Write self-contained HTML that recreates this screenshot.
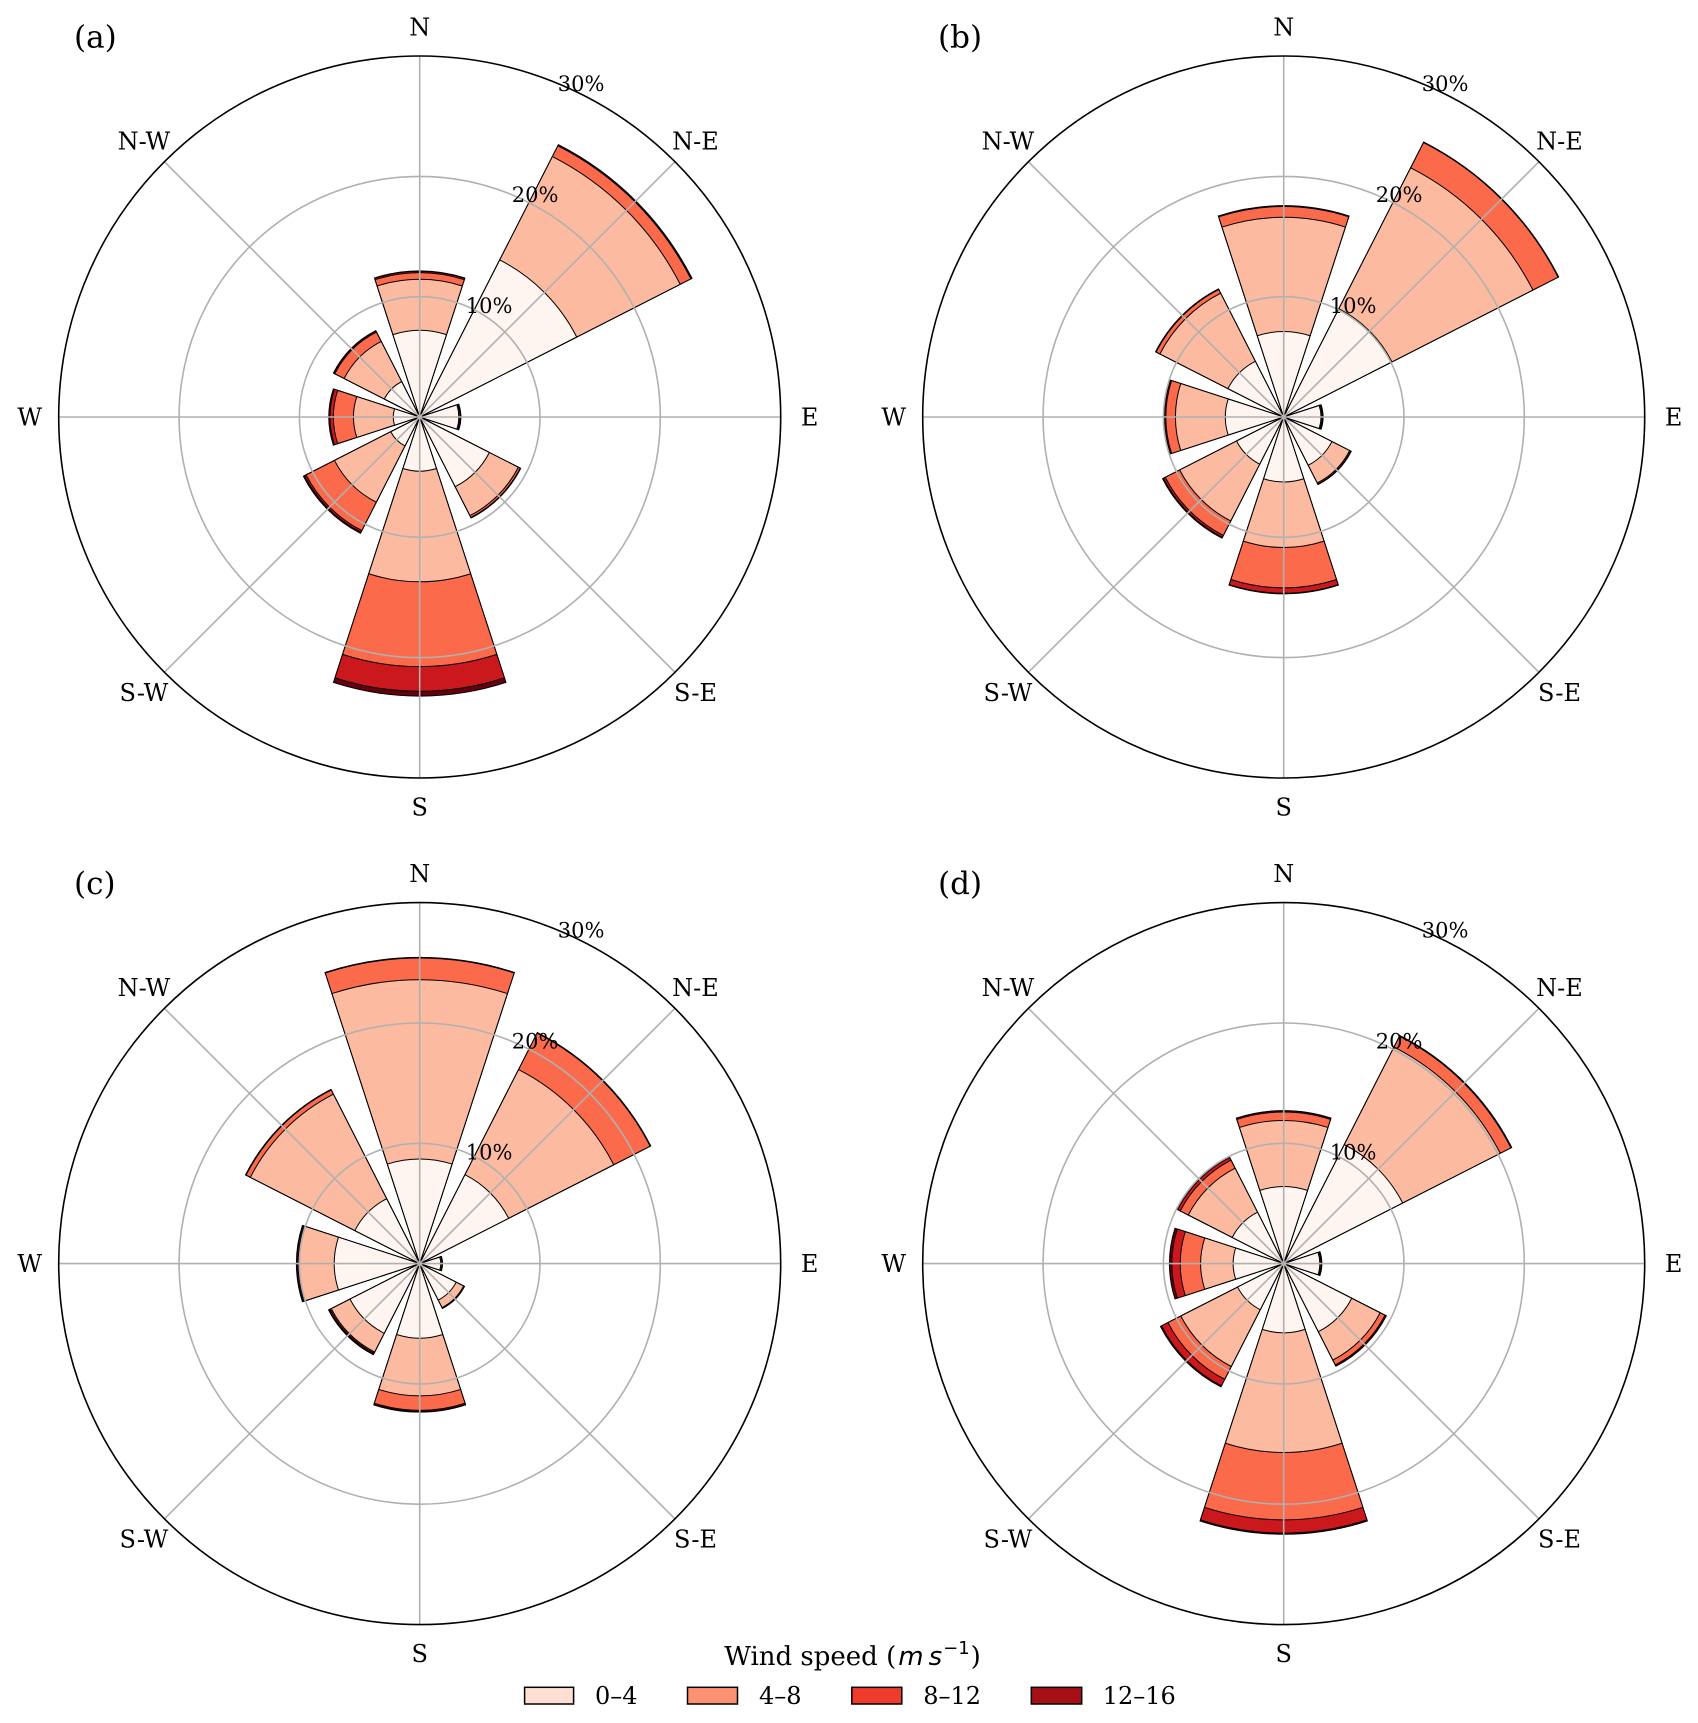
<!DOCTYPE html>
<html><head><meta charset="utf-8"><style>
html,body{margin:0;padding:0;background:#fff;}
svg{display:block;}
.w{stroke:#000;stroke-width:1;vector-effect:non-scaling-stroke;stroke-linejoin:miter;}
.c1{fill:#fff5f0}.c2{fill:#fcbba1}.c3{fill:#fb6a4a}.c4{fill:#cb181d}.c5{fill:#67000d}
.g{stroke:#b0b0b0;stroke-width:1.6;fill:none;}
.sp{stroke:#000;stroke-width:1.6;fill:none;}
text{font-family:"DejaVu Serif","Liberation Serif",serif;fill:#000;}
.t{font-size:24px;text-anchor:middle;}
.r{font-size:21px;}
.p{font-size:31px;}
</style></head><body>
<svg width="1698" height="1723" viewBox="0 0 1698 1723" xmlns="http://www.w3.org/2000/svg">
<rect width="1698" height="1723" fill="#fff"/>

<!-- Panel a -->
<g transform="translate(419.7 417) scale(12.03)">
<g transform="rotate(0)">
<path class="w c5" transform="scale(12.15)" d="M0 0L-.30902-.95106A1 1 0 0 1 .30902-.95106Z"/>
<path class="w c4" transform="scale(12.12)" d="M0 0L-.30902-.95106A1 1 0 0 1 .30902-.95106Z"/>
<path class="w c3" transform="scale(12.0)" d="M0 0L-.30902-.95106A1 1 0 0 1 .30902-.95106Z"/>
<path class="w c2" transform="scale(11.45)" d="M0 0L-.30902-.95106A1 1 0 0 1 .30902-.95106Z"/>
<path class="w c1" transform="scale(7.2)" d="M0 0L-.30902-.95106A1 1 0 0 1 .30902-.95106Z"/>
</g>
<g transform="rotate(45)">
<path class="w c5" transform="scale(25.4)" d="M0 0L-.30902-.95106A1 1 0 0 1 .30902-.95106Z"/>
<path class="w c4" transform="scale(25.38)" d="M0 0L-.30902-.95106A1 1 0 0 1 .30902-.95106Z"/>
<path class="w c3" transform="scale(25.3)" d="M0 0L-.30902-.95106A1 1 0 0 1 .30902-.95106Z"/>
<path class="w c2" transform="scale(24.3)" d="M0 0L-.30902-.95106A1 1 0 0 1 .30902-.95106Z"/>
<path class="w c1" transform="scale(14.65)" d="M0 0L-.30902-.95106A1 1 0 0 1 .30902-.95106Z"/>
</g>
<g transform="rotate(90)">
<path class="w c5" transform="scale(3.42)" d="M0 0L-.30902-.95106A1 1 0 0 1 .30902-.95106Z"/>
<path class="w c4" transform="scale(3.4)" d="M0 0L-.30902-.95106A1 1 0 0 1 .30902-.95106Z"/>
<path class="w c3" transform="scale(3.38)" d="M0 0L-.30902-.95106A1 1 0 0 1 .30902-.95106Z"/>
<path class="w c2" transform="scale(3.33)" d="M0 0L-.30902-.95106A1 1 0 0 1 .30902-.95106Z"/>
<path class="w c1" transform="scale(3.25)" d="M0 0L-.30902-.95106A1 1 0 0 1 .30902-.95106Z"/>
</g>
<g transform="rotate(135)">
<path class="w c5" transform="scale(9.42)" d="M0 0L-.30902-.95106A1 1 0 0 1 .30902-.95106Z"/>
<path class="w c4" transform="scale(9.4)" d="M0 0L-.30902-.95106A1 1 0 0 1 .30902-.95106Z"/>
<path class="w c3" transform="scale(9.37)" d="M0 0L-.30902-.95106A1 1 0 0 1 .30902-.95106Z"/>
<path class="w c2" transform="scale(9.2)" d="M0 0L-.30902-.95106A1 1 0 0 1 .30902-.95106Z"/>
<path class="w c1" transform="scale(6.5)" d="M0 0L-.30902-.95106A1 1 0 0 1 .30902-.95106Z"/>
</g>
<g transform="rotate(180)">
<path class="w c5" transform="scale(23.2)" d="M0 0L-.30902-.95106A1 1 0 0 1 .30902-.95106Z"/>
<path class="w c4" transform="scale(22.8)" d="M0 0L-.30902-.95106A1 1 0 0 1 .30902-.95106Z"/>
<path class="w c3" transform="scale(20.75)" d="M0 0L-.30902-.95106A1 1 0 0 1 .30902-.95106Z"/>
<path class="w c2" transform="scale(13.7)" d="M0 0L-.30902-.95106A1 1 0 0 1 .30902-.95106Z"/>
<path class="w c1" transform="scale(4.5)" d="M0 0L-.30902-.95106A1 1 0 0 1 .30902-.95106Z"/>
</g>
<g transform="rotate(225)">
<path class="w c5" transform="scale(10.85)" d="M0 0L-.30902-.95106A1 1 0 0 1 .30902-.95106Z"/>
<path class="w c4" transform="scale(10.75)" d="M0 0L-.30902-.95106A1 1 0 0 1 .30902-.95106Z"/>
<path class="w c3" transform="scale(10.6)" d="M0 0L-.30902-.95106A1 1 0 0 1 .30902-.95106Z"/>
<path class="w c2" transform="scale(7.95)" d="M0 0L-.30902-.95106A1 1 0 0 1 .30902-.95106Z"/>
<path class="w c1" transform="scale(2.7)" d="M0 0L-.30902-.95106A1 1 0 0 1 .30902-.95106Z"/>
</g>
<g transform="rotate(270)">
<path class="w c5" transform="scale(7.55)" d="M0 0L-.30902-.95106A1 1 0 0 1 .30902-.95106Z"/>
<path class="w c4" transform="scale(7.45)" d="M0 0L-.30902-.95106A1 1 0 0 1 .30902-.95106Z"/>
<path class="w c3" transform="scale(7.17)" d="M0 0L-.30902-.95106A1 1 0 0 1 .30902-.95106Z"/>
<path class="w c2" transform="scale(5.5)" d="M0 0L-.30902-.95106A1 1 0 0 1 .30902-.95106Z"/>
<path class="w c1" transform="scale(2.2)" d="M0 0L-.30902-.95106A1 1 0 0 1 .30902-.95106Z"/>
</g>
<g transform="rotate(315)">
<path class="w c5" transform="scale(8.05)" d="M0 0L-.30902-.95106A1 1 0 0 1 .30902-.95106Z"/>
<path class="w c4" transform="scale(8.02)" d="M0 0L-.30902-.95106A1 1 0 0 1 .30902-.95106Z"/>
<path class="w c3" transform="scale(7.92)" d="M0 0L-.30902-.95106A1 1 0 0 1 .30902-.95106Z"/>
<path class="w c2" transform="scale(7.05)" d="M0 0L-.30902-.95106A1 1 0 0 1 .30902-.95106Z"/>
<path class="w c1" transform="scale(3.3)" d="M0 0L-.30902-.95106A1 1 0 0 1 .30902-.95106Z"/>
</g>
</g>
<g transform="translate(419.7 417)">
<path class="g" d="M0 -361V361M-361 0H361M-255.3 -255.3L255.3 255.3M-255.3 255.3L255.3 -255.3"/>
<circle class="g" r="120.3"/><circle class="g" r="240.6"/>
<circle class="sp" r="361"/>
</g>

<!-- Panel b -->
<g transform="translate(1283.7 417) scale(12.03)">
<g transform="rotate(0)">
<path class="w c5" transform="scale(17.57)" d="M0 0L-.30902-.95106A1 1 0 0 1 .30902-.95106Z"/>
<path class="w c4" transform="scale(17.55)" d="M0 0L-.30902-.95106A1 1 0 0 1 .30902-.95106Z"/>
<path class="w c3" transform="scale(17.5)" d="M0 0L-.30902-.95106A1 1 0 0 1 .30902-.95106Z"/>
<path class="w c2" transform="scale(16.6)" d="M0 0L-.30902-.95106A1 1 0 0 1 .30902-.95106Z"/>
<path class="w c1" transform="scale(7.1)" d="M0 0L-.30902-.95106A1 1 0 0 1 .30902-.95106Z"/>
</g>
<g transform="rotate(45)">
<path class="w c5" transform="scale(25.65)" d="M0 0L-.30902-.95106A1 1 0 0 1 .30902-.95106Z"/>
<path class="w c4" transform="scale(25.63)" d="M0 0L-.30902-.95106A1 1 0 0 1 .30902-.95106Z"/>
<path class="w c3" transform="scale(25.6)" d="M0 0L-.30902-.95106A1 1 0 0 1 .30902-.95106Z"/>
<path class="w c2" transform="scale(23.25)" d="M0 0L-.30902-.95106A1 1 0 0 1 .30902-.95106Z"/>
<path class="w c1" transform="scale(10.1)" d="M0 0L-.30902-.95106A1 1 0 0 1 .30902-.95106Z"/>
</g>
<g transform="rotate(90)">
<path class="w c5" transform="scale(3.27)" d="M0 0L-.30902-.95106A1 1 0 0 1 .30902-.95106Z"/>
<path class="w c4" transform="scale(3.25)" d="M0 0L-.30902-.95106A1 1 0 0 1 .30902-.95106Z"/>
<path class="w c3" transform="scale(3.22)" d="M0 0L-.30902-.95106A1 1 0 0 1 .30902-.95106Z"/>
<path class="w c2" transform="scale(3.18)" d="M0 0L-.30902-.95106A1 1 0 0 1 .30902-.95106Z"/>
<path class="w c1" transform="scale(3.1)" d="M0 0L-.30902-.95106A1 1 0 0 1 .30902-.95106Z"/>
</g>
<g transform="rotate(135)">
<path class="w c5" transform="scale(6.3)" d="M0 0L-.30902-.95106A1 1 0 0 1 .30902-.95106Z"/>
<path class="w c4" transform="scale(6.28)" d="M0 0L-.30902-.95106A1 1 0 0 1 .30902-.95106Z"/>
<path class="w c3" transform="scale(6.25)" d="M0 0L-.30902-.95106A1 1 0 0 1 .30902-.95106Z"/>
<path class="w c2" transform="scale(6.15)" d="M0 0L-.30902-.95106A1 1 0 0 1 .30902-.95106Z"/>
<path class="w c1" transform="scale(4.5)" d="M0 0L-.30902-.95106A1 1 0 0 1 .30902-.95106Z"/>
</g>
<g transform="rotate(180)">
<path class="w c5" transform="scale(14.7)" d="M0 0L-.30902-.95106A1 1 0 0 1 .30902-.95106Z"/>
<path class="w c4" transform="scale(14.65)" d="M0 0L-.30902-.95106A1 1 0 0 1 .30902-.95106Z"/>
<path class="w c3" transform="scale(14.2)" d="M0 0L-.30902-.95106A1 1 0 0 1 .30902-.95106Z"/>
<path class="w c2" transform="scale(10.85)" d="M0 0L-.30902-.95106A1 1 0 0 1 .30902-.95106Z"/>
<path class="w c1" transform="scale(5.4)" d="M0 0L-.30902-.95106A1 1 0 0 1 .30902-.95106Z"/>
</g>
<g transform="rotate(225)">
<path class="w c5" transform="scale(11.3)" d="M0 0L-.30902-.95106A1 1 0 0 1 .30902-.95106Z"/>
<path class="w c4" transform="scale(11.22)" d="M0 0L-.30902-.95106A1 1 0 0 1 .30902-.95106Z"/>
<path class="w c3" transform="scale(11.05)" d="M0 0L-.30902-.95106A1 1 0 0 1 .30902-.95106Z"/>
<path class="w c2" transform="scale(9.7)" d="M0 0L-.30902-.95106A1 1 0 0 1 .30902-.95106Z"/>
<path class="w c1" transform="scale(4.4)" d="M0 0L-.30902-.95106A1 1 0 0 1 .30902-.95106Z"/>
</g>
<g transform="rotate(270)">
<path class="w c5" transform="scale(9.95)" d="M0 0L-.30902-.95106A1 1 0 0 1 .30902-.95106Z"/>
<path class="w c4" transform="scale(9.9)" d="M0 0L-.30902-.95106A1 1 0 0 1 .30902-.95106Z"/>
<path class="w c3" transform="scale(9.8)" d="M0 0L-.30902-.95106A1 1 0 0 1 .30902-.95106Z"/>
<path class="w c2" transform="scale(9.0)" d="M0 0L-.30902-.95106A1 1 0 0 1 .30902-.95106Z"/>
<path class="w c1" transform="scale(4.85)" d="M0 0L-.30902-.95106A1 1 0 0 1 .30902-.95106Z"/>
</g>
<g transform="rotate(315)">
<path class="w c5" transform="scale(11.95)" d="M0 0L-.30902-.95106A1 1 0 0 1 .30902-.95106Z"/>
<path class="w c4" transform="scale(11.93)" d="M0 0L-.30902-.95106A1 1 0 0 1 .30902-.95106Z"/>
<path class="w c3" transform="scale(11.9)" d="M0 0L-.30902-.95106A1 1 0 0 1 .30902-.95106Z"/>
<path class="w c2" transform="scale(11.55)" d="M0 0L-.30902-.95106A1 1 0 0 1 .30902-.95106Z"/>
<path class="w c1" transform="scale(5.2)" d="M0 0L-.30902-.95106A1 1 0 0 1 .30902-.95106Z"/>
</g>
</g>
<g transform="translate(1283.7 417)">
<path class="g" d="M0 -361V361M-361 0H361M-255.3 -255.3L255.3 255.3M-255.3 255.3L255.3 -255.3"/>
<circle class="g" r="120.3"/><circle class="g" r="240.6"/>
<circle class="sp" r="361"/>
</g>

<!-- Panel c -->
<g transform="translate(419.7 1263.6) scale(12.03)">
<g transform="rotate(0)">
<path class="w c5" transform="scale(25.45)" d="M0 0L-.30902-.95106A1 1 0 0 1 .30902-.95106Z"/>
<path class="w c4" transform="scale(25.43)" d="M0 0L-.30902-.95106A1 1 0 0 1 .30902-.95106Z"/>
<path class="w c3" transform="scale(25.4)" d="M0 0L-.30902-.95106A1 1 0 0 1 .30902-.95106Z"/>
<path class="w c2" transform="scale(23.6)" d="M0 0L-.30902-.95106A1 1 0 0 1 .30902-.95106Z"/>
<path class="w c1" transform="scale(8.7)" d="M0 0L-.30902-.95106A1 1 0 0 1 .30902-.95106Z"/>
</g>
<g transform="rotate(45)">
<path class="w c5" transform="scale(21.55)" d="M0 0L-.30902-.95106A1 1 0 0 1 .30902-.95106Z"/>
<path class="w c4" transform="scale(21.53)" d="M0 0L-.30902-.95106A1 1 0 0 1 .30902-.95106Z"/>
<path class="w c3" transform="scale(21.5)" d="M0 0L-.30902-.95106A1 1 0 0 1 .30902-.95106Z"/>
<path class="w c2" transform="scale(18.1)" d="M0 0L-.30902-.95106A1 1 0 0 1 .30902-.95106Z"/>
<path class="w c1" transform="scale(8.3)" d="M0 0L-.30902-.95106A1 1 0 0 1 .30902-.95106Z"/>
</g>
<g transform="rotate(90)">
<path class="w c5" transform="scale(1.9)" d="M0 0L-.30902-.95106A1 1 0 0 1 .30902-.95106Z"/>
<path class="w c4" transform="scale(1.88)" d="M0 0L-.30902-.95106A1 1 0 0 1 .30902-.95106Z"/>
<path class="w c3" transform="scale(1.86)" d="M0 0L-.30902-.95106A1 1 0 0 1 .30902-.95106Z"/>
<path class="w c2" transform="scale(1.84)" d="M0 0L-.30902-.95106A1 1 0 0 1 .30902-.95106Z"/>
<path class="w c1" transform="scale(1.75)" d="M0 0L-.30902-.95106A1 1 0 0 1 .30902-.95106Z"/>
</g>
<g transform="rotate(135)">
<path class="w c5" transform="scale(4.18)" d="M0 0L-.30902-.95106A1 1 0 0 1 .30902-.95106Z"/>
<path class="w c4" transform="scale(4.16)" d="M0 0L-.30902-.95106A1 1 0 0 1 .30902-.95106Z"/>
<path class="w c3" transform="scale(4.14)" d="M0 0L-.30902-.95106A1 1 0 0 1 .30902-.95106Z"/>
<path class="w c2" transform="scale(4.1)" d="M0 0L-.30902-.95106A1 1 0 0 1 .30902-.95106Z"/>
<path class="w c1" transform="scale(3.4)" d="M0 0L-.30902-.95106A1 1 0 0 1 .30902-.95106Z"/>
</g>
<g transform="rotate(180)">
<path class="w c5" transform="scale(12.35)" d="M0 0L-.30902-.95106A1 1 0 0 1 .30902-.95106Z"/>
<path class="w c4" transform="scale(12.3)" d="M0 0L-.30902-.95106A1 1 0 0 1 .30902-.95106Z"/>
<path class="w c3" transform="scale(12.2)" d="M0 0L-.30902-.95106A1 1 0 0 1 .30902-.95106Z"/>
<path class="w c2" transform="scale(11.0)" d="M0 0L-.30902-.95106A1 1 0 0 1 .30902-.95106Z"/>
<path class="w c1" transform="scale(6.2)" d="M0 0L-.30902-.95106A1 1 0 0 1 .30902-.95106Z"/>
</g>
<g transform="rotate(225)">
<path class="w c5" transform="scale(8.5)" d="M0 0L-.30902-.95106A1 1 0 0 1 .30902-.95106Z"/>
<path class="w c4" transform="scale(8.45)" d="M0 0L-.30902-.95106A1 1 0 0 1 .30902-.95106Z"/>
<path class="w c3" transform="scale(8.35)" d="M0 0L-.30902-.95106A1 1 0 0 1 .30902-.95106Z"/>
<path class="w c2" transform="scale(8.25)" d="M0 0L-.30902-.95106A1 1 0 0 1 .30902-.95106Z"/>
<path class="w c1" transform="scale(6.5)" d="M0 0L-.30902-.95106A1 1 0 0 1 .30902-.95106Z"/>
</g>
<g transform="rotate(270)">
<path class="w c5" transform="scale(10.25)" d="M0 0L-.30902-.95106A1 1 0 0 1 .30902-.95106Z"/>
<path class="w c4" transform="scale(10.2)" d="M0 0L-.30902-.95106A1 1 0 0 1 .30902-.95106Z"/>
<path class="w c3" transform="scale(10.1)" d="M0 0L-.30902-.95106A1 1 0 0 1 .30902-.95106Z"/>
<path class="w c2" transform="scale(10.0)" d="M0 0L-.30902-.95106A1 1 0 0 1 .30902-.95106Z"/>
<path class="w c1" transform="scale(7.1)" d="M0 0L-.30902-.95106A1 1 0 0 1 .30902-.95106Z"/>
</g>
<g transform="rotate(315)">
<path class="w c5" transform="scale(16.25)" d="M0 0L-.30902-.95106A1 1 0 0 1 .30902-.95106Z"/>
<path class="w c4" transform="scale(16.23)" d="M0 0L-.30902-.95106A1 1 0 0 1 .30902-.95106Z"/>
<path class="w c3" transform="scale(16.2)" d="M0 0L-.30902-.95106A1 1 0 0 1 .30902-.95106Z"/>
<path class="w c2" transform="scale(15.8)" d="M0 0L-.30902-.95106A1 1 0 0 1 .30902-.95106Z"/>
<path class="w c1" transform="scale(6.05)" d="M0 0L-.30902-.95106A1 1 0 0 1 .30902-.95106Z"/>
</g>
</g>
<g transform="translate(419.7 1263.6)">
<path class="g" d="M0 -361V361M-361 0H361M-255.3 -255.3L255.3 255.3M-255.3 255.3L255.3 -255.3"/>
<circle class="g" r="120.3"/><circle class="g" r="240.6"/>
<circle class="sp" r="361"/>
</g>

<!-- Panel d -->
<g transform="translate(1283.7 1263.6) scale(12.03)">
<g transform="rotate(0)">
<path class="w c5" transform="scale(12.72)" d="M0 0L-.30902-.95106A1 1 0 0 1 .30902-.95106Z"/>
<path class="w c4" transform="scale(12.7)" d="M0 0L-.30902-.95106A1 1 0 0 1 .30902-.95106Z"/>
<path class="w c3" transform="scale(12.6)" d="M0 0L-.30902-.95106A1 1 0 0 1 .30902-.95106Z"/>
<path class="w c2" transform="scale(11.9)" d="M0 0L-.30902-.95106A1 1 0 0 1 .30902-.95106Z"/>
<path class="w c1" transform="scale(6.4)" d="M0 0L-.30902-.95106A1 1 0 0 1 .30902-.95106Z"/>
</g>
<g transform="rotate(45)">
<path class="w c5" transform="scale(21.27)" d="M0 0L-.30902-.95106A1 1 0 0 1 .30902-.95106Z"/>
<path class="w c4" transform="scale(21.25)" d="M0 0L-.30902-.95106A1 1 0 0 1 .30902-.95106Z"/>
<path class="w c3" transform="scale(21.2)" d="M0 0L-.30902-.95106A1 1 0 0 1 .30902-.95106Z"/>
<path class="w c2" transform="scale(20.2)" d="M0 0L-.30902-.95106A1 1 0 0 1 .30902-.95106Z"/>
<path class="w c1" transform="scale(11.1)" d="M0 0L-.30902-.95106A1 1 0 0 1 .30902-.95106Z"/>
</g>
<g transform="rotate(90)">
<path class="w c5" transform="scale(3.17)" d="M0 0L-.30902-.95106A1 1 0 0 1 .30902-.95106Z"/>
<path class="w c4" transform="scale(3.15)" d="M0 0L-.30902-.95106A1 1 0 0 1 .30902-.95106Z"/>
<path class="w c3" transform="scale(3.12)" d="M0 0L-.30902-.95106A1 1 0 0 1 .30902-.95106Z"/>
<path class="w c2" transform="scale(3.08)" d="M0 0L-.30902-.95106A1 1 0 0 1 .30902-.95106Z"/>
<path class="w c1" transform="scale(3.0)" d="M0 0L-.30902-.95106A1 1 0 0 1 .30902-.95106Z"/>
</g>
<g transform="rotate(135)">
<path class="w c5" transform="scale(9.57)" d="M0 0L-.30902-.95106A1 1 0 0 1 .30902-.95106Z"/>
<path class="w c4" transform="scale(9.55)" d="M0 0L-.30902-.95106A1 1 0 0 1 .30902-.95106Z"/>
<path class="w c3" transform="scale(9.45)" d="M0 0L-.30902-.95106A1 1 0 0 1 .30902-.95106Z"/>
<path class="w c2" transform="scale(9.0)" d="M0 0L-.30902-.95106A1 1 0 0 1 .30902-.95106Z"/>
<path class="w c1" transform="scale(6.35)" d="M0 0L-.30902-.95106A1 1 0 0 1 .30902-.95106Z"/>
</g>
<g transform="rotate(180)">
<path class="w c5" transform="scale(22.5)" d="M0 0L-.30902-.95106A1 1 0 0 1 .30902-.95106Z"/>
<path class="w c4" transform="scale(22.4)" d="M0 0L-.30902-.95106A1 1 0 0 1 .30902-.95106Z"/>
<path class="w c3" transform="scale(21.3)" d="M0 0L-.30902-.95106A1 1 0 0 1 .30902-.95106Z"/>
<path class="w c2" transform="scale(15.7)" d="M0 0L-.30902-.95106A1 1 0 0 1 .30902-.95106Z"/>
<path class="w c1" transform="scale(5.75)" d="M0 0L-.30902-.95106A1 1 0 0 1 .30902-.95106Z"/>
</g>
<g transform="rotate(225)">
<path class="w c5" transform="scale(11.5)" d="M0 0L-.30902-.95106A1 1 0 0 1 .30902-.95106Z"/>
<path class="w c4" transform="scale(11.4)" d="M0 0L-.30902-.95106A1 1 0 0 1 .30902-.95106Z"/>
<path class="w c3" transform="scale(10.8)" d="M0 0L-.30902-.95106A1 1 0 0 1 .30902-.95106Z"/>
<path class="w c2" transform="scale(9.6)" d="M0 0L-.30902-.95106A1 1 0 0 1 .30902-.95106Z"/>
<path class="w c1" transform="scale(4.3)" d="M0 0L-.30902-.95106A1 1 0 0 1 .30902-.95106Z"/>
</g>
<g transform="rotate(270)">
<path class="w c5" transform="scale(9.5)" d="M0 0L-.30902-.95106A1 1 0 0 1 .30902-.95106Z"/>
<path class="w c4" transform="scale(9.3)" d="M0 0L-.30902-.95106A1 1 0 0 1 .30902-.95106Z"/>
<path class="w c3" transform="scale(8.6)" d="M0 0L-.30902-.95106A1 1 0 0 1 .30902-.95106Z"/>
<path class="w c2" transform="scale(6.9)" d="M0 0L-.30902-.95106A1 1 0 0 1 .30902-.95106Z"/>
<path class="w c1" transform="scale(4.2)" d="M0 0L-.30902-.95106A1 1 0 0 1 .30902-.95106Z"/>
</g>
<g transform="rotate(315)">
<path class="w c5" transform="scale(9.95)" d="M0 0L-.30902-.95106A1 1 0 0 1 .30902-.95106Z"/>
<path class="w c4" transform="scale(9.9)" d="M0 0L-.30902-.95106A1 1 0 0 1 .30902-.95106Z"/>
<path class="w c3" transform="scale(9.65)" d="M0 0L-.30902-.95106A1 1 0 0 1 .30902-.95106Z"/>
<path class="w c2" transform="scale(8.9)" d="M0 0L-.30902-.95106A1 1 0 0 1 .30902-.95106Z"/>
<path class="w c1" transform="scale(4.8)" d="M0 0L-.30902-.95106A1 1 0 0 1 .30902-.95106Z"/>
</g>
</g>
<g transform="translate(1283.7 1263.6)">
<path class="g" d="M0 -361V361M-361 0H361M-255.3 -255.3L255.3 255.3M-255.3 255.3L255.3 -255.3"/>
<circle class="g" r="120.3"/><circle class="g" r="240.6"/>
<circle class="sp" r="361"/>
</g>

<!-- Direction labels -->
<text class="t" x="419.7" y="35.3">N</text>
<text class="t" x="695.5" y="149.5">N-E</text>
<text class="t" x="809.7" y="425.3">E</text>
<text class="t" x="695.5" y="701.1">S-E</text>
<text class="t" x="419.7" y="815.3">S</text>
<text class="t" x="143.9" y="701.1">S-W</text>
<text class="t" x="29.7" y="425.3">W</text>
<text class="t" x="143.9" y="149.5">N-W</text>

<text class="t" x="1283.7" y="35.3">N</text>
<text class="t" x="1559.5" y="149.5">N-E</text>
<text class="t" x="1673.7" y="425.3">E</text>
<text class="t" x="1559.5" y="701.1">S-E</text>
<text class="t" x="1283.7" y="815.3">S</text>
<text class="t" x="1007.9" y="701.1">S-W</text>
<text class="t" x="893.7" y="425.3">W</text>
<text class="t" x="1007.9" y="149.5">N-W</text>

<text class="t" x="419.7" y="881.9">N</text>
<text class="t" x="695.5" y="996.1">N-E</text>
<text class="t" x="809.7" y="1271.9">E</text>
<text class="t" x="695.5" y="1547.7">S-E</text>
<text class="t" x="419.7" y="1661.9">S</text>
<text class="t" x="143.9" y="1547.7">S-W</text>
<text class="t" x="29.7" y="1271.9">W</text>
<text class="t" x="143.9" y="996.1">N-W</text>

<text class="t" x="1283.7" y="881.9">N</text>
<text class="t" x="1559.5" y="996.1">N-E</text>
<text class="t" x="1673.7" y="1271.9">E</text>
<text class="t" x="1559.5" y="1547.7">S-E</text>
<text class="t" x="1283.7" y="1661.9">S</text>
<text class="t" x="1007.9" y="1547.7">S-W</text>
<text class="t" x="893.7" y="1271.9">W</text>
<text class="t" x="1007.9" y="996.1">N-W</text>

<!-- Radial labels -->
<text class="r" x="465.8" y="313.1">10%</text>
<text class="r" x="511.8" y="202.0">20%</text>
<text class="r" x="557.8" y="90.8">30%</text>
<text class="r" x="1329.8" y="313.1">10%</text>
<text class="r" x="1375.8" y="202.0">20%</text>
<text class="r" x="1421.8" y="90.8">30%</text>
<text class="r" x="465.8" y="1159.7">10%</text>
<text class="r" x="511.8" y="1048.6">20%</text>
<text class="r" x="557.8" y="937.4">30%</text>
<text class="r" x="1329.8" y="1159.7">10%</text>
<text class="r" x="1375.8" y="1048.6">20%</text>
<text class="r" x="1421.8" y="937.4">30%</text>

<!-- Panel titles -->
<text class="p" x="74" y="47.5">(a)</text>
<text class="p" x="938" y="47.5">(b)</text>
<text class="p" x="74" y="894">(c)</text>
<text class="p" x="938" y="894">(d)</text>

<!-- Legend -->
<text x="852.5" y="1665" text-anchor="middle" font-size="26">Wind speed (<tspan font-family="DejaVu Sans, Liberation Sans, sans-serif" font-style="italic" dx="2">m</tspan><tspan font-family="DejaVu Sans, Liberation Sans, sans-serif" font-style="italic" dx="5">s</tspan><tspan font-family="DejaVu Sans, Liberation Sans, sans-serif" font-size="18" dy="-11" dx="1">−1</tspan><tspan dy="11" dx="1">)</tspan></text>

<rect x="524.6" y="1687.3" width="49" height="16.7" fill="#fee0d2" stroke="#000" stroke-width="1.5"/>
<text x="595" y="1704" font-size="24">0–4</text>
<rect x="687.5" y="1687.3" width="50" height="16.7" fill="#fc9272" stroke="#000" stroke-width="1.5"/>
<text x="759" y="1704" font-size="24">4–8</text>
<rect x="851.8" y="1687.3" width="50" height="16.7" fill="#ef3b2c" stroke="#000" stroke-width="1.5"/>
<text x="923.2" y="1704" font-size="24">8–12</text>
<rect x="1031.3" y="1687.3" width="50.4" height="16.7" fill="#a50f15" stroke="#000" stroke-width="1.5"/>
<text x="1102.7" y="1704" font-size="24">12–16</text>
</svg>
</body></html>
